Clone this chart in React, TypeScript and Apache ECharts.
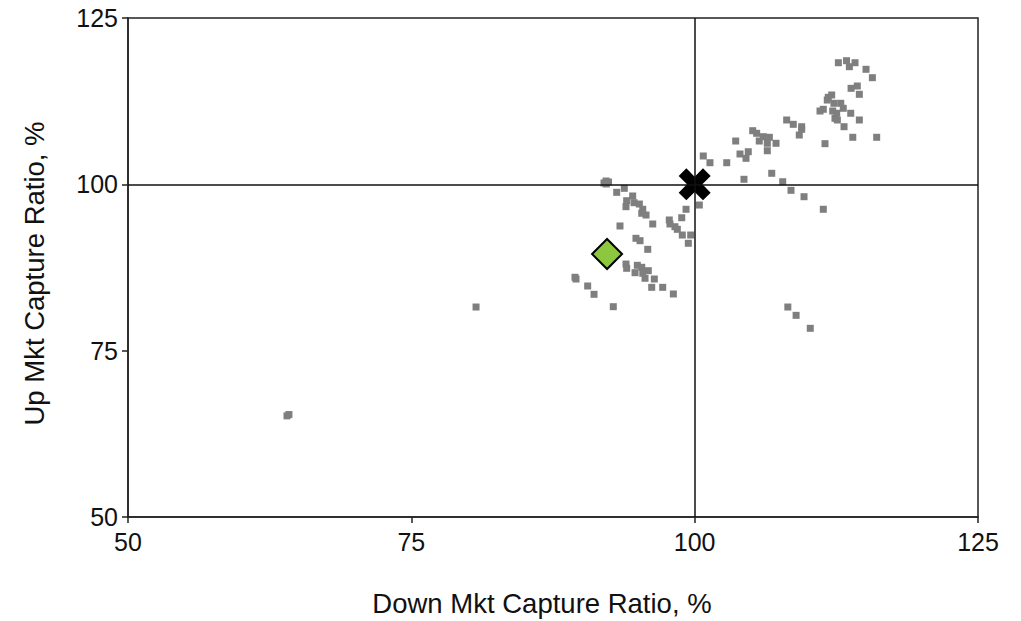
import React, { useEffect, useRef } from "react";
import * as echarts from "echarts";

const peerPoints: [number, number][] = [
  [92.18, 100.5], [92.0, 100.2], [92.4, 100.35], [92.2, 100.05],
  [93.12, 98.8], [93.79, 99.4], [94.53, 98.25], [94.0, 97.54], [93.94, 96.64],
  [94.65, 97.24], [95.12, 97.04], [95.42, 96.25], [95.33, 95.65], [95.71, 95.39],
  [96.3, 94.04], [93.41, 93.74], [94.82, 91.89], [95.18, 91.53], [95.86, 90.23],
  [93.94, 88.02], [94.0, 87.38], [94.94, 87.83], [95.33, 87.53], [94.74, 86.72],
  [95.42, 86.63], [95.91, 87.02], [95.62, 85.88], [96.44, 85.77], [96.21, 84.52],
  [97.18, 84.52], [98.12, 83.52], [89.44, 86.03], [89.53, 85.77], [90.56, 84.72],
  [91.12, 83.47], [92.82, 81.61], [97.76, 94.64], [97.82, 94.04], [98.26, 93.63],
  [98.47, 93.24], [98.86, 94.98], [99.24, 96.25], [98.91, 92.38], [99.65, 92.38],
  [99.44, 91.14], [100.41, 96.89], [100.76, 104.26], [101.35, 103.25],
  [102.83, 103.25], [104.0, 104.56], [104.53, 103.91], [104.73, 104.9],
  [106.41, 105.05], [104.35, 100.76], [106.8, 101.66], [107.77, 100.39],
  [108.5, 99.1], [109.65, 98.14], [111.35, 96.25], [108.22, 81.56],
  [108.95, 80.31], [110.2, 78.36], [103.62, 106.51], [105.12, 108.06],
  [105.47, 107.67], [106.06, 107.16], [106.59, 107.07], [105.7, 106.51],
  [106.41, 106.17], [107.18, 106.17], [108.12, 109.67], [108.7, 109.02],
  [109.44, 108.66], [109.23, 107.41], [109.44, 108.27], [112.68, 118.28],
  [113.4, 118.58], [113.65, 117.68], [114.15, 118.28], [115.12, 117.29],
  [115.68, 116.03], [113.8, 114.43], [114.35, 114.78], [114.53, 113.53],
  [111.79, 113.08], [112.09, 113.43], [111.7, 112.67], [112.29, 112.18],
  [112.89, 112.18], [113.11, 111.43], [111.35, 111.28], [111.06, 111.02],
  [112.18, 111.02], [112.53, 110.68], [112.38, 109.92], [112.59, 109.67],
  [113.77, 110.68], [114.53, 109.67], [113.18, 108.66], [113.95, 107.07],
  [116.06, 107.07], [111.5, 106.11], [80.71, 81.56], [64.03, 65.2], [64.2, 65.4],
];

const fundPoint: [number, number][] = [[92.27, 89.53]];
const benchmarkPoint: [number, number][] = [[100, 100]];

const xTicks = [50, 75, 100, 125];
const yTicks = [50, 75, 100, 125];
const xName = "Down Mkt Capture Ratio, %";
const yName = "Up Mkt Capture Ratio, %";

const crossPath =
  "path://M2.4,0 L5,2.6 L7.6,0 L10,2.4 L7.4,5 L10,7.6 L7.6,10 L5,7.4 L2.4,10 L0,7.6 L2.6,5 L0,2.4 Z";

export default function App() {
  const ref = useRef<HTMLDivElement>(null);
  useEffect(() => {
    if (!ref.current) return;
    const chart = echarts.init(ref.current, undefined, { renderer: "svg" });
    const font = "'Liberation Sans', Arial, sans-serif";
    chart.setOption({
      animation: false,
      backgroundColor: "#ffffff",
      grid: {
        left: 128,
        right: 43,
        top: 18,
        bottom: 104,
        show: true,
        borderColor: "#222",
        borderWidth: 1.5,
        containLabel: false,
        outerBoundsMode: "none",
      },
      xAxis: {
        type: "value",
        min: xTicks[0],
        max: xTicks[xTicks.length - 1],
        interval: 25,
        name: xName,
        nameLocation: "middle",
        nameGap: 72,
        nameTextStyle: { fontFamily: font, fontSize: 27.5, color: "#111", padding: [0, 22, 0, 0] },
        axisLine: { show: true, onZero: false, lineStyle: { color: "#222", width: 1.5 } },
        axisTick: { show: true, length: 6, lineStyle: { color: "#222", width: 1.5 } },
        axisLabel: { fontFamily: font, fontSize: 25, color: "#111", margin: 12 },
        splitLine: { show: false },
      },
      yAxis: {
        type: "value",
        min: yTicks[0],
        max: yTicks[yTicks.length - 1],
        interval: 25,
        name: yName,
        nameLocation: "middle",
        nameGap: 80,
        nameTextStyle: { fontFamily: font, fontSize: 27.5, color: "#111", padding: [0, 12, 0, 0] },
        axisLine: { show: true, onZero: false, lineStyle: { color: "#222", width: 1.5 } },
        axisTick: { show: true, length: 6, lineStyle: { color: "#222", width: 1.5 } },
        axisLabel: { fontFamily: font, fontSize: 25, color: "#111", margin: 10 },
        splitLine: { show: false },
      },
      series: [
        {
          type: "scatter",
          data: peerPoints,
          symbol: "rect",
          symbolSize: 7,
          itemStyle: { color: "#7f7f7f", opacity: 1 },
          markLine: {
            silent: true,
            symbol: ["none", "none"],
            label: { show: false },
            lineStyle: { color: "#111", width: 1.5, type: "solid" },
            data: [{ xAxis: 100 }, { yAxis: 100 }],
          },
          z: 2,
        },
        {
          type: "scatter",
          data: fundPoint,
          symbol: "diamond",
          symbolSize: [30, 30],
          itemStyle: { color: "#8dc63f", borderColor: "#000", borderWidth: 2, opacity: 1 },
          z: 3,
        },
        {
          type: "scatter",
          data: benchmarkPoint,
          symbol: crossPath,
          symbolSize: 32,
          itemStyle: { color: "#000", opacity: 1 },
          z: 4,
        },
      ],
    });
    return () => chart.dispose();
  }, []);
  return (
    <div
      ref={ref}
      style={{ position: "fixed", left: 0, top: 0, width: 1021, height: 621, background: "#fff" }}
    />
  );
}
